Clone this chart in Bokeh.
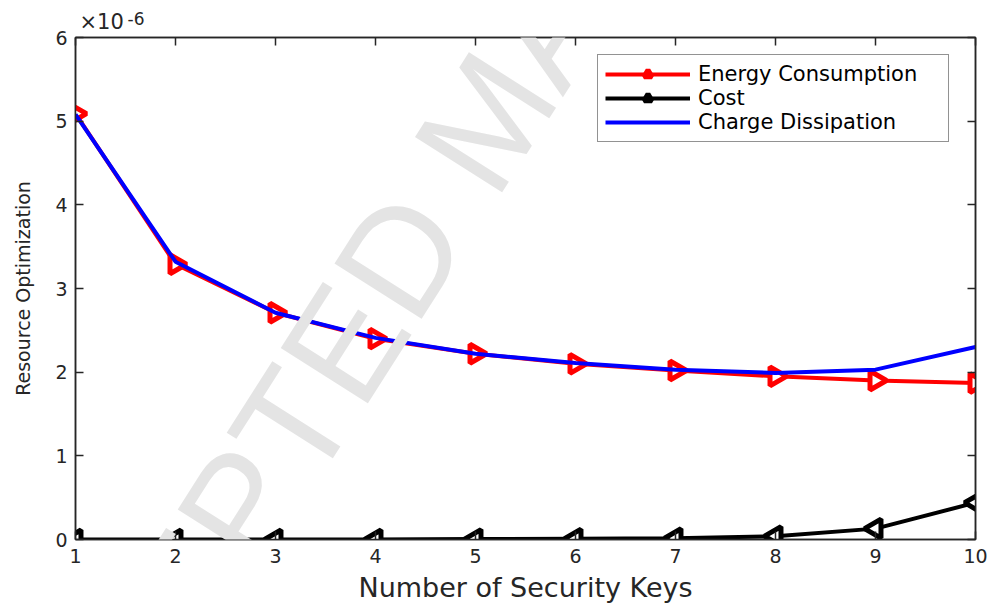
import math
from bokeh.plotting import figure
from bokeh.models import (Range1d, LinearAxis, FixedTicker, Legend, LegendItem, Label, ColumnDataSource)
from bokeh.embed import file_html
from bokeh.resources import INLINE

# ---- data (values in units of 1e-6) ----
keys = [1, 2, 3, 4, 5, 6, 7, 8, 9, 10]
energy = [5.09, 3.29, 2.71, 2.40, 2.22, 2.10, 2.02, 1.95, 1.90, 1.87]
cost = [0.0, 0.0, 0.0, 0.0, 0.005, 0.01, 0.015, 0.04, 0.13, 0.44]
charge = [5.08, 3.32, 2.71, 2.41, 2.22, 2.11, 2.03, 1.99, 2.03, 2.30]
x_ticks = [1, 2, 3, 4, 5, 6, 7, 8, 9, 10]
y_ticks = [0, 1, 2, 3, 4, 5, 6]
series_names = ["Energy Consumption", "Cost", "Charge Dissipation"]
x_title = "Number of Security Keys"
y_title = "Resource Optimization"
exp_base = "×10"
exp_power = "-6"
watermark = "ACCEPTED MANUSCRIPT"

FONT = "DejaVu Sans"
AX = "#262626"

p = figure(width=990, height=605, x_range=Range1d(1, 10), y_range=Range1d(0, 6),
           output_backend="svg", toolbar_location=None,
           min_border_left=75, min_border_right=15, min_border_top=35, min_border_bottom=65)
p.background_fill_color = "white"
p.border_fill_color = "white"
p.outline_line_color = AX
p.outline_line_width = 1.5
p.xgrid.visible = False
p.ygrid.visible = False

for ax in (p.xaxis[0], p.yaxis[0]):
    ax.axis_line_color = AX
    ax.axis_line_width = 1.5
    ax.major_tick_line_color = AX
    ax.major_tick_line_width = 1.5
    ax.major_tick_in = 8
    ax.major_tick_out = 0
    ax.minor_tick_line_color = None
    ax.major_label_text_font = FONT
    ax.major_label_text_font_size = "19px"
    ax.major_label_text_color = AX
    ax.axis_label_text_font = FONT
    ax.axis_label_text_font_style = "normal"
    ax.axis_label_text_color = AX

p.xaxis[0].ticker = FixedTicker(ticks=x_ticks)
p.yaxis[0].ticker = FixedTicker(ticks=y_ticks)
p.xaxis[0].major_label_standoff = 9
p.yaxis[0].major_label_standoff = 8
p.xaxis[0].axis_label = x_title
p.xaxis[0].axis_label_text_font_size = "27px"
p.xaxis[0].axis_label_standoff = 6
p.yaxis[0].axis_label = y_title
p.yaxis[0].axis_label_text_font_size = "19px"
p.yaxis[0].axis_label_standoff = 18


def frame_axis(ticks):
    return LinearAxis(ticker=FixedTicker(ticks=ticks),
                      major_label_overrides={t: "" for t in ticks},
                      major_tick_in=8, major_tick_out=0, major_tick_line_color=AX,
                      major_tick_line_width=1.5, minor_tick_line_color=None,
                      axis_line_color=AX, axis_line_width=1.5, major_label_standoff=0)


p.add_layout(frame_axis(x_ticks), "above")
p.add_layout(frame_axis(y_ticks), "right")

# ---- series ----
src_e = ColumnDataSource(dict(x=keys, y=energy, a=[-math.pi / 2] * len(keys)))
src_c = ColumnDataSource(dict(x=keys, y=cost, a=[math.pi / 2] * len(keys)))

r_e_line = p.line(keys, energy, line_color="#ff0000", line_width=4)
r_e_mark = p.scatter("x", "y", source=src_e, marker="triangle", size=19, angle="a",
                     line_color="#ff0000", line_width=5, fill_color="white")
r_c_line = p.line(keys, cost, line_color="black", line_width=4)
r_c_mark = p.scatter("x", "y", source=src_c, marker="triangle", size=19, angle="a",
                     line_color="black", line_width=5, fill_color="white")
r_q_line = p.line(keys, charge, line_color="#0000ff", line_width=4)

legend = Legend(items=[
    LegendItem(label=series_names[0], renderers=[r_e_line, r_e_mark], index=0),
    LegendItem(label=series_names[1], renderers=[r_c_line, r_c_mark], index=0),
    LegendItem(label=series_names[2], renderers=[r_q_line]),
], location=(522, 397))
legend.glyph_width = 85
legend.glyph_height = 20
legend.label_height = 20
legend.label_width = 243
legend.label_standoff = 8
legend.padding = 7
legend.spacing = 0
legend.margin = 0
legend.label_text_font = FONT
legend.label_text_font_size = "21px"
legend.label_text_color = "black"
legend.border_line_color = AX
legend.border_line_width = 1.5
legend.background_fill_color = "white"
legend.background_fill_alpha = 1
p.add_layout(legend)

# exponent label (in the top panel so that it is not clipped by the frame)
p.add_layout(Label(x=x_ticks[0], y=y_ticks[-1], x_offset=4, y_offset=4, text=exp_base,
                   text_font=FONT, text_font_size="21px", text_color=AX, text_baseline="bottom"),
             "above")
p.add_layout(Label(x=x_ticks[0], y=y_ticks[-1], x_offset=52, y_offset=13, text=exp_power,
                   text_font=FONT, text_font_size="17px", text_color=AX, text_baseline="bottom"),
             "above")

# watermark
p.add_layout(Label(x=5.12, y=5.03, text=watermark, angle=57.5, angle_units="deg",
                   text_align="center", text_baseline="middle", text_font="Liberation Sans",
                   text_font_size="150px", text_color="#e4e4e4", level="overlay"))

open("out.html", "w").write(file_html(p, INLINE))
